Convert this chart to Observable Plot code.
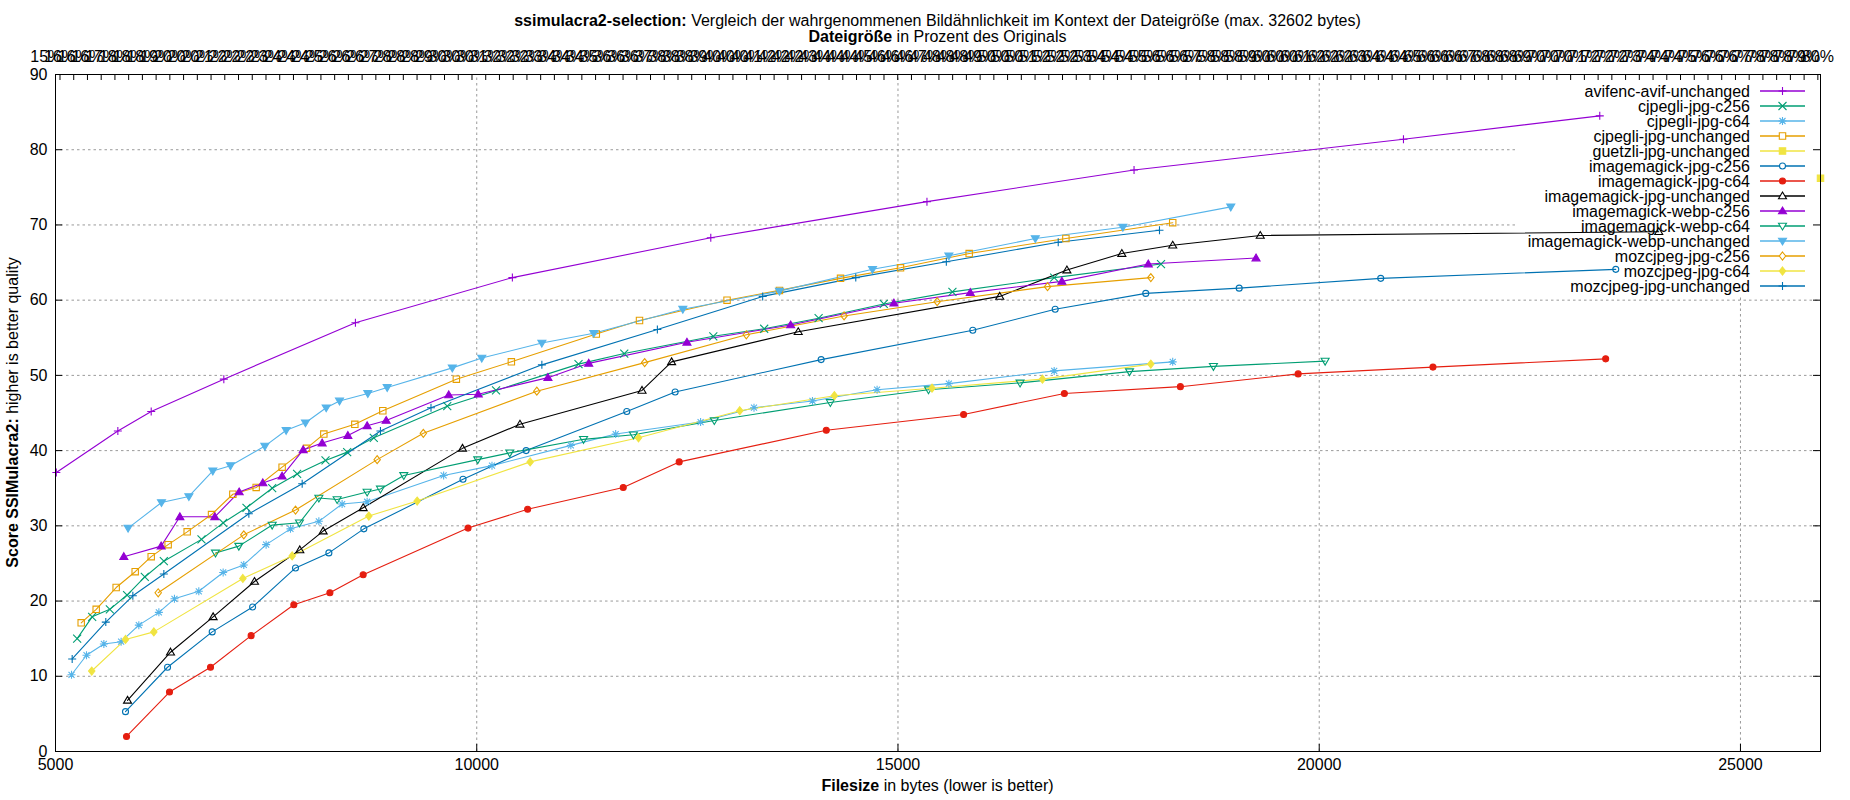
<!DOCTYPE html>
<html><head><meta charset="utf-8">
<script src="https://cdn.jsdelivr.net/npm/d3@7"></script>
<script src="https://cdn.jsdelivr.net/npm/@observablehq/plot@0.6"></script>
<style>body{margin:0;background:#fff}</style>
</head><body><div id="chart"></div>
<script>
// ---------- data ----------
const seriesNames = ["avifenc-avif-unchanged","cjpegli-jpg-c256","cjpegli-jpg-c64","cjpegli-jpg-unchanged","guetzli-jpg-unchanged","imagemagick-jpg-c256","imagemagick-jpg-c64","imagemagick-jpg-unchanged","imagemagick-webp-c256","imagemagick-webp-c64","imagemagick-webp-unchanged","mozcjpeg-jpg-c256","mozcjpeg-jpg-c64","mozcjpeg-jpg-unchanged"];

const avifencX = [5010,5740,6136,6998,8560,10423,12778,15344,17802,21000,23330];
const avifencY = [37.1,42.6,45.2,49.5,57.0,63.0,68.3,73.1,77.3,81.4,84.5];
const cjpegliC256X = [5257,5435,5645,5850,6060,6286,6733,6990,7267,7572,7868,8205,8462,8778,9650,10229,11208,11751,12808,13412,14058,14831,15646,16854,18122];
const cjpegliC256Y = [15.0,17.9,18.9,20.8,23.2,25.3,28.2,30.4,32.4,35.0,36.9,38.7,39.8,41.7,45.9,48.0,51.5,52.9,55.2,56.2,57.6,59.5,61.1,63.0,64.8];
const cjpegliC64X = [5190,5368,5574,5779,5989,6227,6412,6701,6990,7235,7500,7789,8126,8402,8699,9607,10181,11117,11649,12657,13291,13985,14752,15604,16854,18261];
const cjpegliC64Y = [10.2,12.8,14.3,14.6,16.8,18.5,20.3,21.3,23.8,24.8,27.5,29.6,30.6,32.9,33.2,36.7,38.0,40.7,42.2,43.8,45.7,46.6,48.1,48.9,50.6,51.8];
const cjpegliUnchX = [5305,5483,5720,5946,6136,6337,6563,6852,7105,7382,7690,7979,8185,8553,8885,9758,10411,11419,11932,12971,13593,14318,15030,15845,16993,18261];
const cjpegliUnchY = [17.1,18.9,21.8,23.9,25.9,27.5,29.2,31.5,34.2,35.1,37.8,40.3,42.2,43.5,45.3,49.5,51.8,55.5,57.3,60.0,61.3,62.9,64.3,66.2,68.2,70.3];
const guetzliX = [25950];
const guetzliY = [76.2];
const imJpgC256X = [5831,6330,6860,7340,7849,8245,8660,9837,10586,11781,12355,14088,15888,16866,17941,19050,20730,23520];
const imJpgC256Y = [5.3,11.2,15.9,19.2,24.4,26.4,29.6,36.2,40.0,45.2,47.8,52.1,56.0,58.8,60.9,61.6,62.9,64.1];
const imJpgC64X = [5843,6353,6840,7322,7829,8257,8652,9897,10604,11739,12403,14149,15779,16975,18352,19750,21350,23400];
const imJpgC64Y = [2.0,7.9,11.2,15.4,19.5,21.1,23.5,29.7,32.2,35.1,38.5,42.7,44.8,47.6,48.5,50.2,51.1,52.2];
const imJpgUnchX = [5855,6365,6871,7362,7900,8177,8652,9831,10513,11962,12313,13816,16208,17005,17657,18261,19300,24030];
const imJpgUnchY = [6.8,13.2,17.9,22.6,26.8,29.3,32.4,40.3,43.5,48.0,51.8,55.8,60.5,64.0,66.2,67.3,68.6,69.1];
const imWebpC256X = [5811,6254,6476,6891,7180,7461,7690,7940,8165,8470,8699,8925,9668,10018,10845,11329,12495,13726,14952,15858,16945,17971,19250];
const imWebpC256Y = [25.9,27.3,31.2,31.2,34.5,35.7,36.6,40.1,41.0,42.0,43.3,44.0,47.4,47.5,49.7,51.6,54.4,56.7,59.6,61.0,62.5,64.8,65.6];
const imWebpC64X = [6899,7176,7572,7896,8126,8343,8699,8857,9134,10012,10392,11268,11860,12820,14197,15362,16449,17748,18744,20070];
const imWebpC64Y = [26.4,27.3,30.1,30.4,33.7,33.5,34.5,34.9,36.7,38.8,39.7,41.5,42.1,44.0,46.4,48.1,49.0,50.5,51.2,51.9];
const imWebpUnchX = [5862,6258,6583,6867,7077,7485,7738,7967,8213,8371,8707,8937,9710,10060,10773,11389,12446,13593,14698,15604,16630,17669,18950];
const imWebpUnchY = [29.7,33.1,33.9,37.3,38.0,40.6,42.7,43.7,45.7,46.6,47.6,48.4,51.0,52.3,54.3,55.6,58.8,61.2,64.1,65.9,68.2,69.7,72.4];
const mozC256X = [6219,7235,7849,8818,9366,10713,11993,13200,14360,15465,16775,18001];
const mozC256Y = [21.1,28.8,32.1,38.8,42.3,47.9,51.7,55.4,57.9,59.8,61.8,63.0];
const mozC64X = [5430,5831,6167,7224,7809,8719,9293,10634,11920,13122,14245,15404,16715,18001];
const mozC64Y = [10.7,14.9,15.9,23.0,26.0,31.3,33.3,38.5,41.7,45.3,47.3,48.3,49.5,51.5];
const mozUnchX = [5198,5597,5918,6286,7295,7928,8857,9457,10773,12144,13394,14499,15574,16902,18104];
const mozUnchY = [12.3,17.2,20.7,23.6,31.6,35.6,42.6,45.7,51.4,56.1,60.5,63.0,65.1,67.7,69.3];

const originalBytes = 32602;
const xTicks = [5000,10000,15000,20000,25000];
const yTicks = [0,10,20,30,40,50,60,70,80,90];
const x2Percent = [15,15.5,16,16.5,17,17.5,18,18.5,19,19.5,20,20.5,21,21.5,22,22.5,23,23.5,24,24.5,25,25.5,26,26.5,27,27.5,28,28.5,29,29.5,30,30.5,31,31.5,32,32.5,33,33.5,34,34.5,35,35.5,36,36.5,37,37.5,38,38.5,39,39.5,40,40.5,41,41.5,42,42.5,43,43.5,44,44.5,45,45.5,46,46.5,47,47.5,48,48.5,49,49.5,50,50.5,51,51.5,52,52.5,53,53.5,54,54.5,55,55.5,56,56.5,57,57.5,58,58.5,59,59.5,60,60.5,61,61.5,62,62.5,63,63.5,64,64.5,65,65.5,66,66.5,67,67.5,68,68.5,69,69.5,70,70.5,71,71.5,72,72.5,73,73.5,74,74.5,75,75.5,76,76.5,77,77.5,78,78.5,79,79.5];

const seriesX = [avifencX,cjpegliC256X,cjpegliC64X,cjpegliUnchX,guetzliX,imJpgC256X,imJpgC64X,imJpgUnchX,imWebpC256X,imWebpC64X,imWebpUnchX,mozC256X,mozC64X,mozUnchX];
const seriesY = [avifencY,cjpegliC256Y,cjpegliC64Y,cjpegliUnchY,guetzliY,imJpgC256Y,imJpgC64Y,imJpgUnchY,imWebpC256Y,imWebpC64Y,imWebpUnchY,mozC256Y,mozC64Y,mozUnchY];

// ---------- styles ----------
const colors = ["#9400d3","#009e73","#56b4e9","#e69f00","#f0e442","#0072b2","#e51e10","#000000","#9400d3","#009e73","#56b4e9","#e69f00","#f0e442","#0072b2"];
const shapes = ["plus","times","asterisk","square","square","circle","circle","tri","tri","tridown","tridown","diamond","diamond","plus"];
const filled = [false,false,false,false,true,false,true,false,true,false,true,false,true,false];

function mkSymbol(kind) {
  return {draw(ctx, size) {
    const s = Math.sqrt(size / Math.PI);
    switch (kind) {
      case "plus": ctx.moveTo(-s,0); ctx.lineTo(s,0); ctx.moveTo(0,-s); ctx.lineTo(0,s); break;
      case "times": ctx.moveTo(-s,-s); ctx.lineTo(s,s); ctx.moveTo(-s,s); ctx.lineTo(s,-s); break;
      case "asterisk": ctx.moveTo(-s,0); ctx.lineTo(s,0); ctx.moveTo(0,-s); ctx.lineTo(0,s);
        ctx.moveTo(-s*.75,-s*.75); ctx.lineTo(s*.75,s*.75); ctx.moveTo(-s*.75,s*.75); ctx.lineTo(s*.75,-s*.75); break;
      case "square": ctx.moveTo(-s*.8,-s*.8); ctx.lineTo(s*.8,-s*.8); ctx.lineTo(s*.8,s*.8); ctx.lineTo(-s*.8,s*.8); ctx.closePath(); break;
      case "circle": ctx.moveTo(s*.75,0); ctx.arc(0,0,s*.75,0,2*Math.PI); ctx.closePath(); break;
      case "tri": ctx.moveTo(0,-s); ctx.lineTo(s,s*.7); ctx.lineTo(-s,s*.7); ctx.closePath(); break;
      case "tridown": ctx.moveTo(0,s); ctx.lineTo(s,-s*.7); ctx.lineTo(-s,-s*.7); ctx.closePath(); break;
      case "diamond": ctx.moveTo(0,-s); ctx.lineTo(s*.8,0); ctx.lineTo(0,s); ctx.lineTo(-s*.8,0); ctx.closePath(); break;
    }
  }};
}
const symbols = shapes.map(mkSymbol);

// ---------- layout ----------
const W = 1850, H = 800;
const mL = 55, mR = 30, mT = 74, mB = 49;
const xDomain = [5000, 25950], yDomain = [0, 90];
const pxPerX = (W - mL - mR) / (xDomain[1] - xDomain[0]);
const pxPerY = (H - mT - mB) / (yDomain[1] - yDomain[0]);
const tickLen = 7;
const legendLeftX = xDomain[0] + (1517 - mL) / pxPerX;
const legendBottomY = (H - mB - 296) / pxPerY;
const fontFamily = "'Liberation Sans', Arial, Helvetica, sans-serif";
const fontSize = 16;

const rows = seriesNames.flatMap((name, i) => seriesX[i].map((x, j) => ({series: name, idx: i, x, y: seriesY[i][j]})));

function roundHalfEven(v) {
  const f = Math.floor(v), d = v - f;
  if (Math.abs(d - 0.5) < 1e-9) return (f % 2 === 0) ? f : f + 1;
  return Math.round(v);
}

const gridStyle = {stroke: "#9a9a9a", strokeWidth: 1, strokeDasharray: "2.5,3"};
const gridX = xTicks.filter(t => t > xDomain[0]);
const gridY = yTicks.filter(t => t > yDomain[0] && t < yDomain[1]);

const marks = [
  // grid (interrupted by the key box)
  Plot.ruleX(gridX.filter(t => t < legendLeftX), {y1: yDomain[0], y2: yDomain[1], ...gridStyle}),
  Plot.ruleX(gridX.filter(t => t >= legendLeftX), {y1: yDomain[0], y2: legendBottomY, ...gridStyle}),
  Plot.ruleY(gridY.filter(t => t < legendBottomY), {x1: xDomain[0], x2: xDomain[1], ...gridStyle}),
  Plot.ruleY(gridY.filter(t => t >= legendBottomY), {x1: xDomain[0], x2: legendLeftX, ...gridStyle}),
  // series lines
  ...seriesNames.map((name, i) => Plot.line(rows.filter(r => r.idx === i), {x: "x", y: "y", stroke: colors[i], strokeWidth: 1.1})),
  // points
  ...seriesNames.map((name, i) => Plot.dot(rows.filter(r => r.idx === i), {
    x: "x", y: "y", symbol: symbols[i], r: 4,
    fill: filled[i] ? colors[i] : "none", stroke: colors[i], strokeWidth: 1.1
  })),
  // border
  Plot.frame({stroke: "#000", strokeWidth: 1}),
  // inward ticks
  Plot.ruleY(yTicks, {x1: xDomain[0], x2: xDomain[0] + tickLen / pxPerX, stroke: "#000"}),
  Plot.ruleY(yTicks, {x1: xDomain[1] - tickLen / pxPerX, x2: xDomain[1], stroke: "#000"}),
  Plot.ruleX(xTicks, {y1: yDomain[0], y2: yDomain[0] + tickLen / pxPerY, stroke: "#000"}),
  Plot.ruleX(x2Percent.map(p => p / 100 * originalBytes).filter(v => v >= xDomain[0] && v <= xDomain[1]),
    {y1: yDomain[1] - (tickLen - 1) / pxPerY, y2: yDomain[1], stroke: "#000"}),
  // axes labels
  Plot.axisY(yTicks, {anchor: "left", tickSize: 0, tickPadding: 8, label: null, tickFormat: d => String(d)}),
  Plot.axisX(xTicks, {anchor: "bottom", tickSize: 0, tickPadding: 7, label: null, tickFormat: d => String(d)}),
  Plot.axisX(x2Percent.map(p => p / 100 * originalBytes), {anchor: "top", tickSize: 0, tickPadding: 12.5, label: null,
    tickFormat: d => roundHalfEven(d / originalBytes * 100) + "%"})
];

const chart = Plot.plot({
  width: W, height: H,
  marginLeft: mL, marginRight: mR, marginTop: mT, marginBottom: mB,
  x: {domain: xDomain, label: null},
  y: {domain: yDomain, label: null},
  style: {fontFamily, fontSize: fontSize + "px", background: "#fff", color: "#000", overflow: "visible"},
  marks
});
document.getElementById("chart").append(chart);

// ---------- titles & key (real SVG text) ----------
const svg = d3.select(chart);
svg.selectAll("text").attr("font-family", fontFamily);
const cx = (mL + (W - mR)) / 2;
function richText(x, y, parts, anchor = "middle") {
  const t = svg.append("text").attr("x", x).attr("y", y).attr("text-anchor", anchor)
    .attr("font-family", fontFamily).attr("font-size", fontSize).attr("fill", "#000");
  parts.forEach(([s, bold]) => t.append("tspan").attr("font-weight", bold ? "bold" : "normal").text(s));
  return t;
}
richText(cx, 26, [["ssimulacra2-selection:", true], [" Vergleich der wahrgenommenen Bildähnlichkeit im Kontext der Dateigröße (max. " + originalBytes + " bytes)", false]]);
richText(cx, 42, [["Dateigröße", true], [" in Prozent des Originals", false]]);
richText(cx, 791, [["Filesize", true], [" in bytes (lower is better)", false]]);
richText(0, 0, [["Score SSIMulacra2:", true], [" higher is better quality", false]])
  .attr("transform", `translate(18,${(mT + H - mB) / 2}) rotate(-90)`);

// key
const keyTextRight = 1750, keyLineX1 = 1760, keyLineX2 = 1805, keyTop = 91, keyStep = 15;
const key = svg.append("g");
seriesNames.forEach((name, i) => {
  const y = keyTop + i * keyStep;
  key.append("text").attr("x", keyTextRight).attr("y", y).attr("dy", "0.35em").attr("text-anchor", "end")
    .attr("font-family", fontFamily).attr("font-size", fontSize).attr("fill", "#000").text(name);
  key.append("line").attr("x1", keyLineX1).attr("x2", keyLineX2).attr("y1", y).attr("y2", y)
    .attr("stroke", colors[i]).attr("stroke-width", 1.5);
  key.append("path").attr("transform", `translate(${(keyLineX1 + keyLineX2) / 2},${y})`)
    .attr("d", d3.symbol(symbols[i], 16 * Math.PI)())
    .attr("fill", filled[i] ? colors[i] : "#fff").attr("stroke", colors[i]).attr("stroke-width", 1.1);
});
</script>
</body></html>
